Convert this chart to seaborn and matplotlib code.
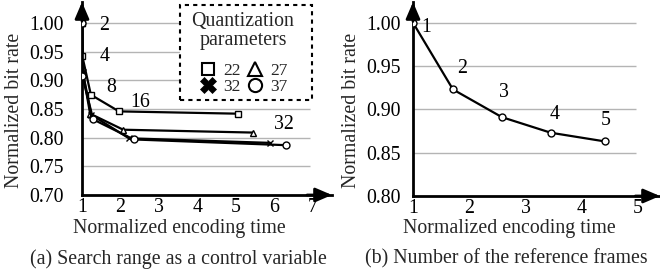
import matplotlib
matplotlib.use("Agg")
import matplotlib.pyplot as plt
import seaborn as sns
import pandas as pd
from matplotlib.lines import Line2D
from matplotlib.patches import Rectangle

# ---- data (left panel: search range, per QP) ----
search_ranges = ["2", "4", "8", "16", "32"]
qp_labels = ["22", "27", "32", "37"]
time_qp22 = [1.00, 1.01, 1.23, 1.96, 5.04]
rate_qp22 = [1.001, 0.942, 0.875, 0.846, 0.842]
time_qp27 = [1.00, 1.01, 1.21, 2.07, 5.45]
rate_qp27 = [1.001, 0.919, 0.842, 0.814, 0.809]
time_qp32 = [1.00, 1.02, 1.24, 2.22, 5.89]
rate_qp32 = [1.001, 0.915, 0.840, 0.799, 0.791]
time_qp37 = [1.00, 1.01, 1.29, 2.34, 6.30]
rate_qp37 = [1.001, 0.907, 0.832, 0.797, 0.787]
label_x_a = [1.58, 1.58, 1.77, 2.51, 6.25]
label_y_a = [0.996, 0.941, 0.888, 0.862, 0.823]

# ---- data (right panel: number of reference frames) ----
ref_frames = ["1", "2", "3", "4", "5"]
time_ref = [1.00, 1.71, 2.58, 3.45, 4.41]
rate_ref = [1.000, 0.923, 0.891, 0.873, 0.863]
label_x_b = [1.24, 1.88, 2.62, 3.51, 4.43]
label_y_b = [0.995, 0.947, 0.920, 0.894, 0.887]

sns.set_theme(style="white")
plt.rcParams["font.family"] = ["Liberation Serif", "DejaVu Serif"]
FS = 14.3
plt.rcParams["font.size"] = FS

series_a = {"22": (time_qp22, rate_qp22), "27": (time_qp27, rate_qp27),
            "32": (time_qp32, rate_qp32), "37": (time_qp37, rate_qp37)}
df_b = pd.DataFrame({"time": time_ref, "rate": rate_ref, "frames": ref_frames})

W, H = 660, 277
fig = plt.figure(figsize=(W / 100, H / 100), dpi=100)
axA = fig.add_axes([82 / W, 1 - 195 / H, 250 / W, 193 / H])
axB = fig.add_axes([413 / W, 1 - 196 / H, 247 / W, 194 / H])

markers = {"22": "s", "27": "^", "32": "x", "37": "o"}


def fx(px):
    return px / W


def fy(py):
    return 1 - py / H


def style_axes(ax, xlim, ylim, yticks, xticks, grid_x_end, ypad):
    ax.set_xlim(*xlim)
    ax.set_ylim(*ylim)
    ax.set_yticks(yticks)
    ax.set_yticklabels([f"{v:.2f}" for v in yticks])
    ax.set_xticks(xticks)
    ax.set_xticklabels([str(v) for v in xticks])
    for s in ["top", "right"]:
        ax.spines[s].set_visible(False)
    for s in ["left", "bottom"]:
        ax.spines[s].set_linewidth(2)
        ax.spines[s].set_color("black")
    ax.hlines(yticks[1:], xlim[0], grid_x_end, color="#b4b4b4", lw=1, zorder=0)
    ax.tick_params(axis="x", direction="in", length=4, width=1.2, pad=2,
                   labelsize=FS, colors="black")
    ax.tick_params(axis="y", length=0, pad=ypad, labelsize=FS, colors="black")
    ax.annotate("", xy=(0, 1.0), xytext=(0, 0.9), xycoords="axes fraction",
                arrowprops=dict(arrowstyle="-|>,head_length=0.7,head_width=0.3",
                                lw=2, color="black", shrinkA=0, shrinkB=0))
    ax.annotate("", xy=(1.0, 0), xytext=(0.9, 0), xycoords="axes fraction",
                arrowprops=dict(arrowstyle="-|>,head_length=0.7,head_width=0.3",
                                lw=2, color="black", shrinkA=0, shrinkB=0))


def set_labels(ax, x0, x1, ybot, ytop, xl_center_x, xl_y, yl_x, yl_y):
    ax.set_xlabel("Normalized encoding time", fontsize=FS)
    ax.set_ylabel("Normalized bit rate", fontsize=FS)
    w = x1 - x0
    h = ybot - ytop
    ax.xaxis.set_label_coords((xl_center_x - x0) / w, (ybot - xl_y) / h)
    ax.xaxis.label.set_verticalalignment("center")
    ax.yaxis.set_label_coords((yl_x - x0) / w, (ybot - yl_y) / h)
    ax.yaxis.label.set_verticalalignment("center")


# ---- left panel ----
for q in qp_labels:
    t, r = series_a[q]
    d = pd.DataFrame({"time": t, "rate": r})
    sns.lineplot(data=d, x="time", y="rate", marker=markers[q], color="black",
                 sort=False, ax=axA, lw=1.6, markersize=5,
                 markerfacecolor="white", markeredgecolor="black",
                 markeredgewidth=1, zorder=3)
style_axes(axA, (1, 7.49), (0.70, 1.037), [0.70, 0.75, 0.80, 0.85, 0.90, 0.95, 1.00],
           [1, 2, 3, 4, 5, 6, 7], 6.92, 13)
for lx, ly, s in zip(label_x_a, label_y_a, search_ranges):
    axA.text(lx, ly, s, fontsize=FS, ha="center", va="center", color="black")

# legend box (dashed frame) with title and entries
box = Rectangle((fx(179.5), fy(100)), fx(311.5) - fx(179.5), fy(5) - fy(100),
                transform=fig.transFigure, facecolor="white", edgecolor="black",
                lw=1.5, ls=(0, (2, 2)), zorder=2, clip_on=False)
axA.add_patch(box)
box.set_transform(fig.transFigure)
axA.text(fx(243), fy(31), "Quantization\nparameters", fontsize=FS,
         transform=fig.transFigure, ha="center", va="center",
         multialignment="center", linespacing=1.0, zorder=4, clip_on=False)

handles = [
    Line2D([], [], ls="", marker="s", ms=9, mfc="white", mec="black", mew=1.5),
    Line2D([], [], ls="", marker="X", ms=11, mfc="black", mec="black", mew=0.5),
    Line2D([], [], ls="", marker="^", ms=9.5, mfc="white", mec="black", mew=1.5),
    Line2D([], [], ls="", marker="o", ms=9.5, mfc="white", mec="black", mew=1.5),
]
leg = axA.legend(handles, ["22", "32", "27", "37"], ncol=2, fontsize=12.5,
                 loc="center", bbox_to_anchor=(fx(243.5), fy(79)),
                 bbox_transform=fig.transFigure, frameon=False,
                 handlelength=1.0, handletextpad=0.4, columnspacing=0.3,
                 labelspacing=0.0, borderpad=0, borderaxespad=0)
leg.set_zorder(5)

set_labels(axA, 82, 332, 195, 2, 179, 228, 15, 110)

# ---- right panel ----
sns.lineplot(data=df_b, x="time", y="rate", marker="o", color="black", sort=False,
             ax=axB, lw=1.6, markersize=5, markerfacecolor="white",
             markeredgecolor="black", markeredgewidth=1, zorder=3)
style_axes(axB, (1, 5.39), (0.80, 1.0239), [0.80, 0.85, 0.90, 0.95, 1.00],
           [1, 2, 3, 4, 5], 4.97, 9)
for lx, ly, s in zip(label_x_b, label_y_b, ref_frames):
    axB.text(lx, ly, s, fontsize=FS, ha="center", va="center", color="black")
set_labels(axB, 413, 660, 196, 2, 509, 228, 351, 110)

fig.text(fx(178), fy(259), "(a) Search range as a control variable",
         fontsize=FS, ha="center", va="center")
fig.text(fx(506), fy(259), "(b) Number of the reference frames",
         fontsize=FS, ha="center", va="center")

fig.savefig("out.png", dpi=100)
